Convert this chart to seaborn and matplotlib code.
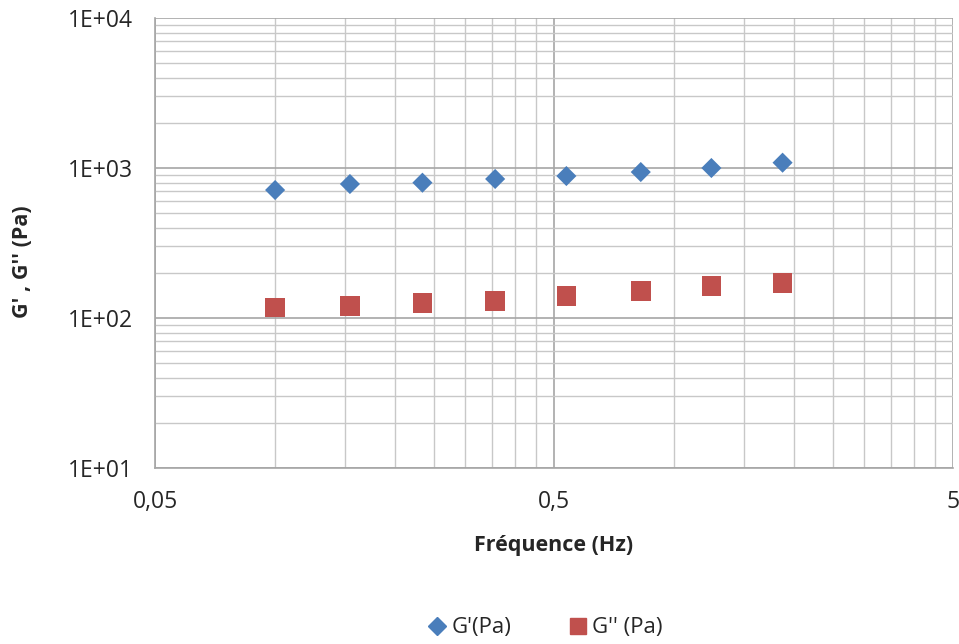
import numpy as np
import pandas as pd
import matplotlib
matplotlib.use("Agg")
import matplotlib.pyplot as plt
import seaborn as sns
from matplotlib.ticker import FixedLocator, FixedFormatter, NullFormatter
from matplotlib.lines import Line2D

# === Data ===
freq = [0.1, 0.154, 0.234, 0.356, 0.537, 0.825, 1.24, 1.87]
g_prime = [713, 782, 798, 845, 884, 940, 1000, 1085]
g_second = [117.8, 120.2, 125.3, 130.4, 139.5, 150.7, 163.5, 170.3]

x_ticks = [0.05, 0.5, 5]
x_ticklabels = ["0,05", "0,5", "5"]
y_ticks = [10, 100, 1000, 10000]
y_ticklabels = ["1E+01", "1E+02", "1E+03", "1E+04"]

name_gp = "G'(Pa)"
name_gs = "G'' (Pa)"
df = pd.DataFrame({"freq": freq, "gp": g_prime, "gs": g_second})

BLUE = "#4a7ebb"
RED = "#c0504d"
TXT = "#262626"

sns.set_theme(style="white")
plt.rcParams["font.family"] = ["Open Sans", "DejaVu Sans"]

fig = plt.figure(figsize=(9.59, 6.44), dpi=100)
ax = fig.add_axes([155 / 959, 1 - 468 / 644, 798 / 959, 450 / 644])

sns.scatterplot(data=df, x="freq", y="gp", marker="D", s=105, color=BLUE,
                edgecolor="none", ax=ax, zorder=3)
sns.scatterplot(data=df, x="freq", y="gs", marker="s", s=200, color=RED,
                edgecolor="none", ax=ax, zorder=3)

ax.set_xscale("log")
ax.set_yscale("log")
ax.set_xlim(0.05, 5)
ax.set_ylim(10, 10000)

# Excel-style log axis: minor lines at k * 0.05 / k * 10^n
x_minor = [0.05 * 10 ** d * k for d in range(2) for k in range(2, 10)]
y_minor = [10 ** d * k for d in range(1, 4) for k in range(2, 10)]
ax.xaxis.set_major_locator(FixedLocator(x_ticks))
ax.xaxis.set_major_formatter(FixedFormatter(x_ticklabels))
ax.xaxis.set_minor_locator(FixedLocator(x_minor))
ax.xaxis.set_minor_formatter(NullFormatter())
ax.yaxis.set_major_locator(FixedLocator(y_ticks))
ax.yaxis.set_major_formatter(FixedFormatter(y_ticklabels))
ax.yaxis.set_minor_locator(FixedLocator(y_minor))
ax.yaxis.set_minor_formatter(NullFormatter())

ax.grid(which="major", color="#a6a6a6", linewidth=1.2, zorder=0)
ax.grid(which="minor", color="#c8c8c8", linewidth=1.0, zorder=0)
ax.set_axisbelow(True)

for side in ["top", "right"]:
    ax.spines[side].set_visible(False)
for side in ["left", "bottom"]:
    ax.spines[side].set_color("#a6a6a6")
    ax.spines[side].set_linewidth(1.2)

ax.tick_params(which="major", direction="out", length=7, width=1.2,
               color="#a6a6a6", labelsize=16.5, labelcolor=TXT, pad=9)
ax.tick_params(which="minor", length=0)
ax.tick_params(axis="x", pad=9)

ax.set_xlabel("Fréquence (Hz)", fontsize=15.5, fontweight="bold",
              color=TXT)
ax.xaxis.set_label_coords(0.5, (468 - 545) / 450)
ax.xaxis.label.set_va("center")
ax.set_ylabel("G' , G'' (Pa)", fontsize=15.5, fontweight="bold",
              color=TXT)
ax.yaxis.set_label_coords((23 - 155) / 798, (468 - 262) / 450)
ax.yaxis.label.set_va("center")

handles = [
    Line2D([], [], marker="D", linestyle="none", color=BLUE, markersize=9.2),
    Line2D([], [], marker="s", linestyle="none", color=RED, markersize=12.2),
]
fig.legend(handles, [name_gp, name_gs], loc="center", ncol=2,
           bbox_to_anchor=(543 / 959, 1 - 628 / 644), frameon=False,
           fontsize=16, handletextpad=0.05, handlelength=1.2,
           columnspacing=2.4, labelcolor=TXT)

fig.savefig("out.png", dpi=100)
